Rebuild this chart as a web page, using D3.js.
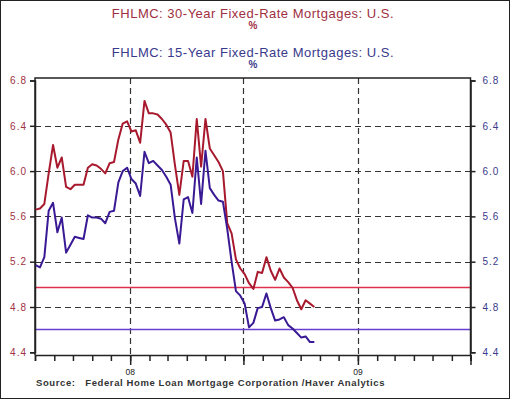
<!DOCTYPE html>
<html>
<head>
<meta charset="utf-8">
<script src="https://cdn.jsdelivr.net/npm/d3@7"></script>
<style>
  body { margin: 0; background: #fff; }
  svg { display: block; font-family: "Liberation Sans", Arial, sans-serif; }
</style>
</head>
<body>
<svg id="chart" width="510" height="399"></svg>
<script>
// weekly FHLMC readings, first Thursday of the series
const startDate = new Date(2007, 7, 2);

const rate30 = [5.66, 5.67, 5.71, 5.98, 6.23, 6.03, 6.12, 5.86, 5.84, 5.88,
    5.88, 5.88, 6.03, 6.06, 6.05, 6.02, 5.98, 6.07, 6.08, 6.28,
    6.42, 6.44, 6.35, 6.36, 6.25, 6.62, 6.51, 6.51, 6.50, 6.46,
    6.41, 6.34, 6.05, 5.79, 6.09, 6.09, 5.95, 6.46, 6.04, 6.46,
    6.20, 6.14, 6.08, 6.00, 5.54, 5.45, 5.22, 5.14, 5.09, 5.01,
    4.96, 5.11, 5.10, 5.24, 5.12, 5.04, 5.14, 5.06, 5.02, 4.97,
    4.86, 4.78, 4.86, 4.83, 4.80];

const rate15 = [5.17, 5.15, 5.24, 5.65, 5.72, 5.46, 5.59, 5.28, 5.35, 5.42,
    5.41, 5.40, 5.61, 5.59, 5.59, 5.58, 5.54, 5.64, 5.65, 5.90,
    6.00, 6.03, 5.93, 5.89, 5.78, 6.17, 6.07, 6.09, 6.05, 6.01,
    5.95, 5.88, 5.58, 5.36, 5.75, 5.77, 5.63, 6.12, 5.71, 6.18,
    5.85, 5.79, 5.74, 5.73, 5.49, 5.20, 4.94, 4.90, 4.83, 4.62,
    4.66, 4.79, 4.80, 4.92, 4.79, 4.68, 4.69, 4.71, 4.64, 4.61,
    4.57, 4.53, 4.54, 4.49, 4.49];

const refLevels = [4.98, 4.61];
const yTicks = [4.4, 4.8, 5.2, 5.6, 6.0, 6.4, 6.8];
const yearLabels = [{date: new Date(2008, 0, 1), label: "08"}, {date: new Date(2009, 0, 1), label: "09"}];

const titles = ["FHLMC: 30-Year Fixed-Rate Mortgages: U.S.", "FHLMC: 15-Year Fixed-Rate Mortgages: U.S."];
const source = "Source:   Federal Home Loan Mortgage Corporation /Haver Analytics";

const RED = "#a8192e";
const BLUE = "#3a1a94";
const RED_REF = "#e0304e";
const BLUE_REF = "#6a3cd0";
const RED_TXT = "#a0303f";
const BLUE_TXT = "#3a3a8c";

const svg = d3.select("#chart");

const leftX = 35, rightX = 470.5, topY = 78, bottomY = 355;

const x = d3.scaleTime()
    .domain([new Date(2007, 7, 1), new Date(2009, 6, 1)])
    .range([leftX, rightX]);
const y = d3.scaleLinear().domain([4.4, 6.8]).range([352.3, 80.5]);

const dates = rate30.map((v, i) => d3.timeDay.offset(startDate, 7 * i));

// outer frame
svg.append("rect")
    .attr("x", 0.5).attr("y", 0.5).attr("width", 509).attr("height", 398)
    .attr("fill", "none").attr("stroke", "#222").attr("stroke-width", 1);

// titles
const titleG = svg.append("g").attr("text-anchor", "middle");
[[titles[0], 18, RED_TXT], [titles[1], 57, BLUE_TXT]].forEach(([t, ty, c]) => {
    titleG.append("text").attr("x", 253).attr("y", ty)
        .attr("font-size", 13).attr("letter-spacing", 0.5).attr("fill", c).text(t);
    titleG.append("text").attr("x", 253).attr("y", ty + 11)
        .attr("font-size", 10).attr("font-weight", "bold").attr("fill", c).text("%");
});

// grid
const grid = svg.append("g")
    .attr("stroke", "#333").attr("stroke-width", 1.2).attr("stroke-dasharray", "6,4");
grid.selectAll("line.h").data(yTicks.slice(1, -1)).enter()
    .append("line").attr("class", "h")
    .attr("x1", leftX).attr("x2", rightX)
    .attr("y1", d => Math.round(y(d)) + 0.5).attr("y2", d => Math.round(y(d)) + 0.5);
grid.selectAll("line.v").data([new Date(2008, 0, 1), new Date(2008, 6, 1), new Date(2009, 0, 1)]).enter()
    .append("line").attr("class", "v")
    .attr("x1", d => Math.round(x(d)) + 0.5).attr("x2", d => Math.round(x(d)) + 0.5)
    .attr("y1", topY).attr("y2", bottomY);

// reference levels
svg.selectAll("line.ref").data(refLevels).enter()
    .append("line").attr("class", "ref")
    .attr("x1", leftX).attr("x2", rightX)
    .attr("y1", d => Math.round(y(d)) + 0.5).attr("y2", d => Math.round(y(d)) + 0.5)
    .attr("stroke", (d, i) => i === 0 ? RED_REF : BLUE_REF)
    .attr("stroke-width", 1.3);

// plot frame
svg.append("path")
    .attr("d", `M${leftX},${bottomY}V${topY}H${rightX}V${bottomY}`)
    .attr("fill", "none").attr("stroke", "#222").attr("stroke-width", 1.5);

// y axes
const yLeft = svg.append("g").attr("transform", `translate(${leftX},0)`)
    .call(d3.axisLeft(y).tickValues(yTicks).tickFormat(d3.format(".1f")).tickSize(5).tickPadding(3));
const yRight = svg.append("g").attr("transform", `translate(${rightX},0)`)
    .call(d3.axisRight(y).tickValues(yTicks).tickFormat(d3.format(".1f")).tickSize(5).tickPadding(7));
[[yLeft, RED_TXT], [yRight, BLUE_TXT]].forEach(([g, c]) => {
    g.select(".domain").attr("stroke", "#222").attr("stroke-width", 1.5);
    g.selectAll(".tick line").attr("stroke", "#222").attr("stroke-width", 1.5);
    g.selectAll(".tick text").attr("fill", c).attr("font-size", 10)
        .attr("font-family", "Liberation Sans, Arial, sans-serif").attr("letter-spacing", 1);
});

// x axis: monthly minor ticks, half-year major ticks
const xAxisG = svg.append("g").attr("transform", `translate(0,${bottomY})`);
xAxisG.append("g")
    .call(d3.axisBottom(x).ticks(d3.timeMonth.every(1)).tickSize(6).tickFormat(""))
    .call(g => g.select(".domain").attr("stroke", "#222").attr("stroke-width", 1.5))
    .call(g => g.selectAll(".tick line").attr("stroke", "#222").attr("stroke-width", 1.5));
xAxisG.append("g")
    .call(d3.axisBottom(x).ticks(d3.timeMonth.every(6)).tickSize(10).tickFormat(""))
    .call(g => g.select(".domain").remove())
    .call(g => g.selectAll(".tick line").attr("stroke", "#222").attr("stroke-width", 1.5));
xAxisG.selectAll("text.year").data(yearLabels).enter()
    .append("text").attr("class", "year")
    .attr("x", d => x(d.date)).attr("y", 19.5)
    .attr("text-anchor", "middle").attr("font-size", 8.5).attr("fill", "#222")
    .text(d => d.label);

// series
const line = d3.line().x((d, i) => x(dates[i])).y(d => y(d));
svg.append("path").datum(rate30)
    .attr("d", line).attr("fill", "none").attr("stroke", RED)
    .attr("stroke-width", 2).attr("stroke-linejoin", "round");
svg.append("path").datum(rate15)
    .attr("d", line).attr("fill", "none").attr("stroke", BLUE)
    .attr("stroke-width", 2).attr("stroke-linejoin", "round");

// source note
svg.append("text").attr("x", 36).attr("y", 386)
    .attr("font-size", 9.5).attr("font-weight", "bold").attr("fill", "#333")
    .attr("letter-spacing", 0.6)
    .attr("xml:space", "preserve").style("white-space", "pre")
    .text(source);
</script>
</body>
</html>
